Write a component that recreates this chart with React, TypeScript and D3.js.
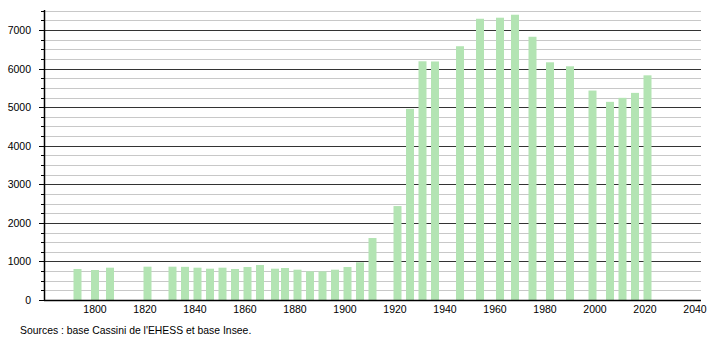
import React from "react";
import * as d3 from "d3";

const years = [1793, 1800, 1806, 1821, 1831, 1836, 1841, 1846, 1851, 1856, 1861, 1866, 1872, 1876, 1881, 1886, 1891, 1896, 1901, 1906, 1911, 1921, 1926, 1931, 1936, 1946, 1954, 1962, 1968, 1975, 1982, 1990, 1999, 2006, 2011, 2016, 2021];
const population = [804, 778, 838, 864, 864, 860, 838, 812, 838, 804, 856, 907, 812, 830, 786, 743, 743, 786, 856, 977, 1607, 2436, 4956, 6190, 6185, 6580, 7293, 7320, 7397, 6826, 6164, 6060, 5431, 5138, 5242, 5371, 5826];
const xTicks = [1800, 1820, 1840, 1860, 1880, 1900, 1920, 1940, 1960, 1980, 2000, 2020, 2040];
const yMajorTicks = [0, 1000, 2000, 3000, 4000, 5000, 6000, 7000];
const sourceText = "Sources : base Cassini de l'EHESS et base Insee.";

export default function App() {
  const W = 710, H = 340;
  const left = 44, right = 701, top = 10, bottom = 300;
  const x = d3.scaleLinear().domain([1779.6, 2042.4]).range([left, right]);
  const y = d3.scaleLinear().domain([0, 7520]).range([bottom, top]);
  const minorTicks = d3.range(250, 7501, 250).filter((v) => v % 1000 !== 0);
  const barW = 8;
  const font = "'Liberation Sans', Arial, sans-serif";

  return (
    <svg width={W} height={H} style={{ position: "absolute", left: 0, top: 0, background: "#fff" }} fontFamily={font}>
      {minorTicks.map((v) => (
        <g key={"mi" + v}>
          <line x1={left} x2={right} y1={Math.round(y(v)) + 0.5} y2={Math.round(y(v)) + 0.5} stroke="#c8c8c8" strokeWidth={1} />
          <line x1={left - 3} x2={left} y1={Math.round(y(v)) + 0.5} y2={Math.round(y(v)) + 0.5} stroke="#000" strokeWidth={1} />
        </g>
      ))}
      {yMajorTicks.filter((v) => v > 0).map((v) => (
        <line key={"ma" + v} x1={left} x2={right} y1={Math.round(y(v)) + 0.5} y2={Math.round(y(v)) + 0.5} stroke="#333" strokeWidth={1} />
      ))}
      {years.map((yr, i) => (
        <rect key={yr} x={x(yr) - barW / 2} y={y(population[i])} width={barW} height={bottom - y(population[i])} fill="#b3e4b3" />
      ))}
      {yMajorTicks.map((v) => (
        <g key={"yt" + v}>
          <line x1={left - 5} x2={left} y1={Math.round(y(v)) + 0.5} y2={Math.round(y(v)) + 0.5} stroke="#000" strokeWidth={1} />
          <text x={31} y={y(v) + 4} textAnchor="end" fontSize={10.5} fill="#000">{v}</text>
        </g>
      ))}
      <line x1={left + 0.5} x2={left + 0.5} y1={top} y2={bottom} stroke="#000" strokeWidth={1.5} />
      <line x1={left} x2={right} y1={bottom + 0.5} y2={bottom + 0.5} stroke="#000" strokeWidth={1.5} />
      {xTicks.map((t) => (
        <text key={"xt" + t} x={x(t)} y={313} textAnchor="middle" fontSize={10.5} fill="#000">{t}</text>
      ))}
      <text x={20} y={334} fontSize={10.4} fill="#000">{sourceText}</text>
    </svg>
  );
}
